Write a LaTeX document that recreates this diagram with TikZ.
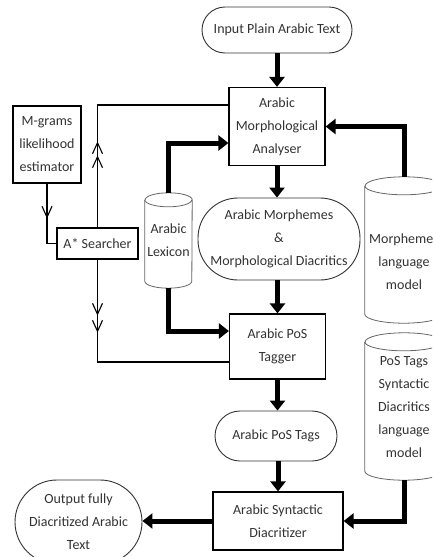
\documentclass[tikz,border=0pt]{standalone}
\usepackage{fontspec}
\setmainfont{Carlito}
\usetikzlibrary{arrows.meta,decorations.markings,calc}
\tikzset{
  txt/.style={align=center, inner sep=0pt, text=black!80, font=\fontsize{14}{23}\selectfont},
  box/.style={txt, draw=black, line width=1.2pt, fill=white},
  stadium/.style={txt, draw=black!80, line width=0.9pt, fill=white},
  cylnode/.style={txt},
  cylline/.style={draw=black!60, line width=0.8pt},
  bigarrow/.style={line width=5pt, -{Triangle[length=10pt,width=15pt]}},
  thinline/.style={line width=1.1pt, draw=black},
  vtip/.tip={Straight Barb[length=11pt,width=10pt]}
}
\newcommand\drawcyl[3]{%
  \draw[cylline] ([yshift=-#2]#1.north west) -- ([yshift=#2]#1.south west)
    arc[start angle=180,end angle=360,x radius=#3,y radius=#2]
    -- ([yshift=-#2]#1.north east)
    arc[start angle=0,end angle=180,x radius=#3,y radius=#2];
  \draw[cylline] ([yshift=-#2]#1.north west)
    arc[start angle=180,end angle=360,x radius=#3,y radius=#2];
}
\begin{document}
\begin{tikzpicture}[x=1pt,y=1pt]
\useasboundingbox (0,0) rectangle (432,-557);
\clip (0,0) rectangle (432,-557);
\fill[white] (0,0) rectangle (432,-557);

\node[stadium, minimum width=150pt, minimum height=46pt, rounded corners=23pt] (inp) at (277,-30) {Input Plain Arabic Text};
\node[box, minimum width=96pt, minimum height=78pt] (ana) at (277,-126.5) {Arabic\\Morphological\\Analyser};
\node[box, minimum width=68pt, minimum height=77pt] (mgr) at (47,-144.5) {M-grams\\likelihood\\estimator};
\node[box, minimum width=81pt, minimum height=31pt] (ast) at (97.5,-243.5) {A* Searcher};
\node[cylnode, minimum width=47pt, minimum height=95pt] (lex) at (168.5,-240.5) {Arabic\\Lexicon};
\node[stadium, minimum width=162pt, minimum height=82pt, rounded corners=40pt] (mor) at (279,-239) {Arabic Morphemes\\\&\\Morphological Diacritics};
\node[cylnode, minimum width=78pt, minimum height=146pt] (mcyl) at (404,-250) {};
\node[txt] (mcyltxt) at (404,-262) {Morphemes\\language\\model};
\node[box, minimum width=96pt, minimum height=65pt] (tag) at (277.5,-346.5) {Arabic PoS\\Tagger};
\node[stadium, minimum width=122pt, minimum height=50pt, rounded corners=25pt] (ptag) at (276,-436) {Arabic PoS Tags};
\node[cylnode, minimum width=78pt, minimum height=147pt] (pcyl) at (404,-406.5) {PoS Tags\\Syntactic\\Diacritics\\language\\model};
\node[box, minimum width=130pt, minimum height=58pt] (dia) at (278,-521) {Arabic Syntactic\\Diacritizer};
\node[stadium, minimum width=127pt, minimum height=84pt, rounded corners=42pt] (out) at (78.5,-522) {Output fully\\Diacritized Arabic\\Text};

\drawcyl{lex}{7pt}{23.5pt}
\drawcyl{mcyl}{9pt}{39pt}
\drawcyl{pcyl}{9pt}{39pt}

\draw[bigarrow] (inp.south) -- (inp.south |- ana.north);
\draw[bigarrow] (ana.south) -- (ana.south |- mor.north);
\draw[bigarrow] (tag.north |- mor.south) -- (tag.north);
\draw[bigarrow] (tag.south) -- (tag.south |- ptag.north);
\draw[bigarrow] (dia.north |- ptag.south) -- (dia.north);
\draw[bigarrow] (lex.north) |- ([yshift=-16.5pt]ana.west);
\draw[bigarrow] (lex.south) |- ([yshift=15.5pt]tag.west);
\draw[bigarrow] (mcyl.north) |- (ana.east);
\draw[bigarrow] (pcyl.south) |- (dia.east);
\draw[bigarrow] (dia.west) -- (dia.west -| out.east);

\draw[thinline, postaction={decorate}, decoration={markings,
    mark=at position 72pt with {\arrow{vtip}},
    mark=at position 86pt with {\arrow{vtip}}}]
  (ast.north) |- ([yshift=21.5pt]ana.west);
\draw[thinline, postaction={decorate}, decoration={markings,
    mark=at position 56pt with {\arrow{vtip}},
    mark=at position 73pt with {\arrow{vtip}}}]
  (ast.south) |- ([yshift=-15.5pt]tag.west);
\draw[thinline, postaction={decorate}, decoration={markings,
    mark=at position 35pt with {\arrow{vtip}}}]
  (mgr.south) |- (ast.west);
\end{tikzpicture}
\end{document}
